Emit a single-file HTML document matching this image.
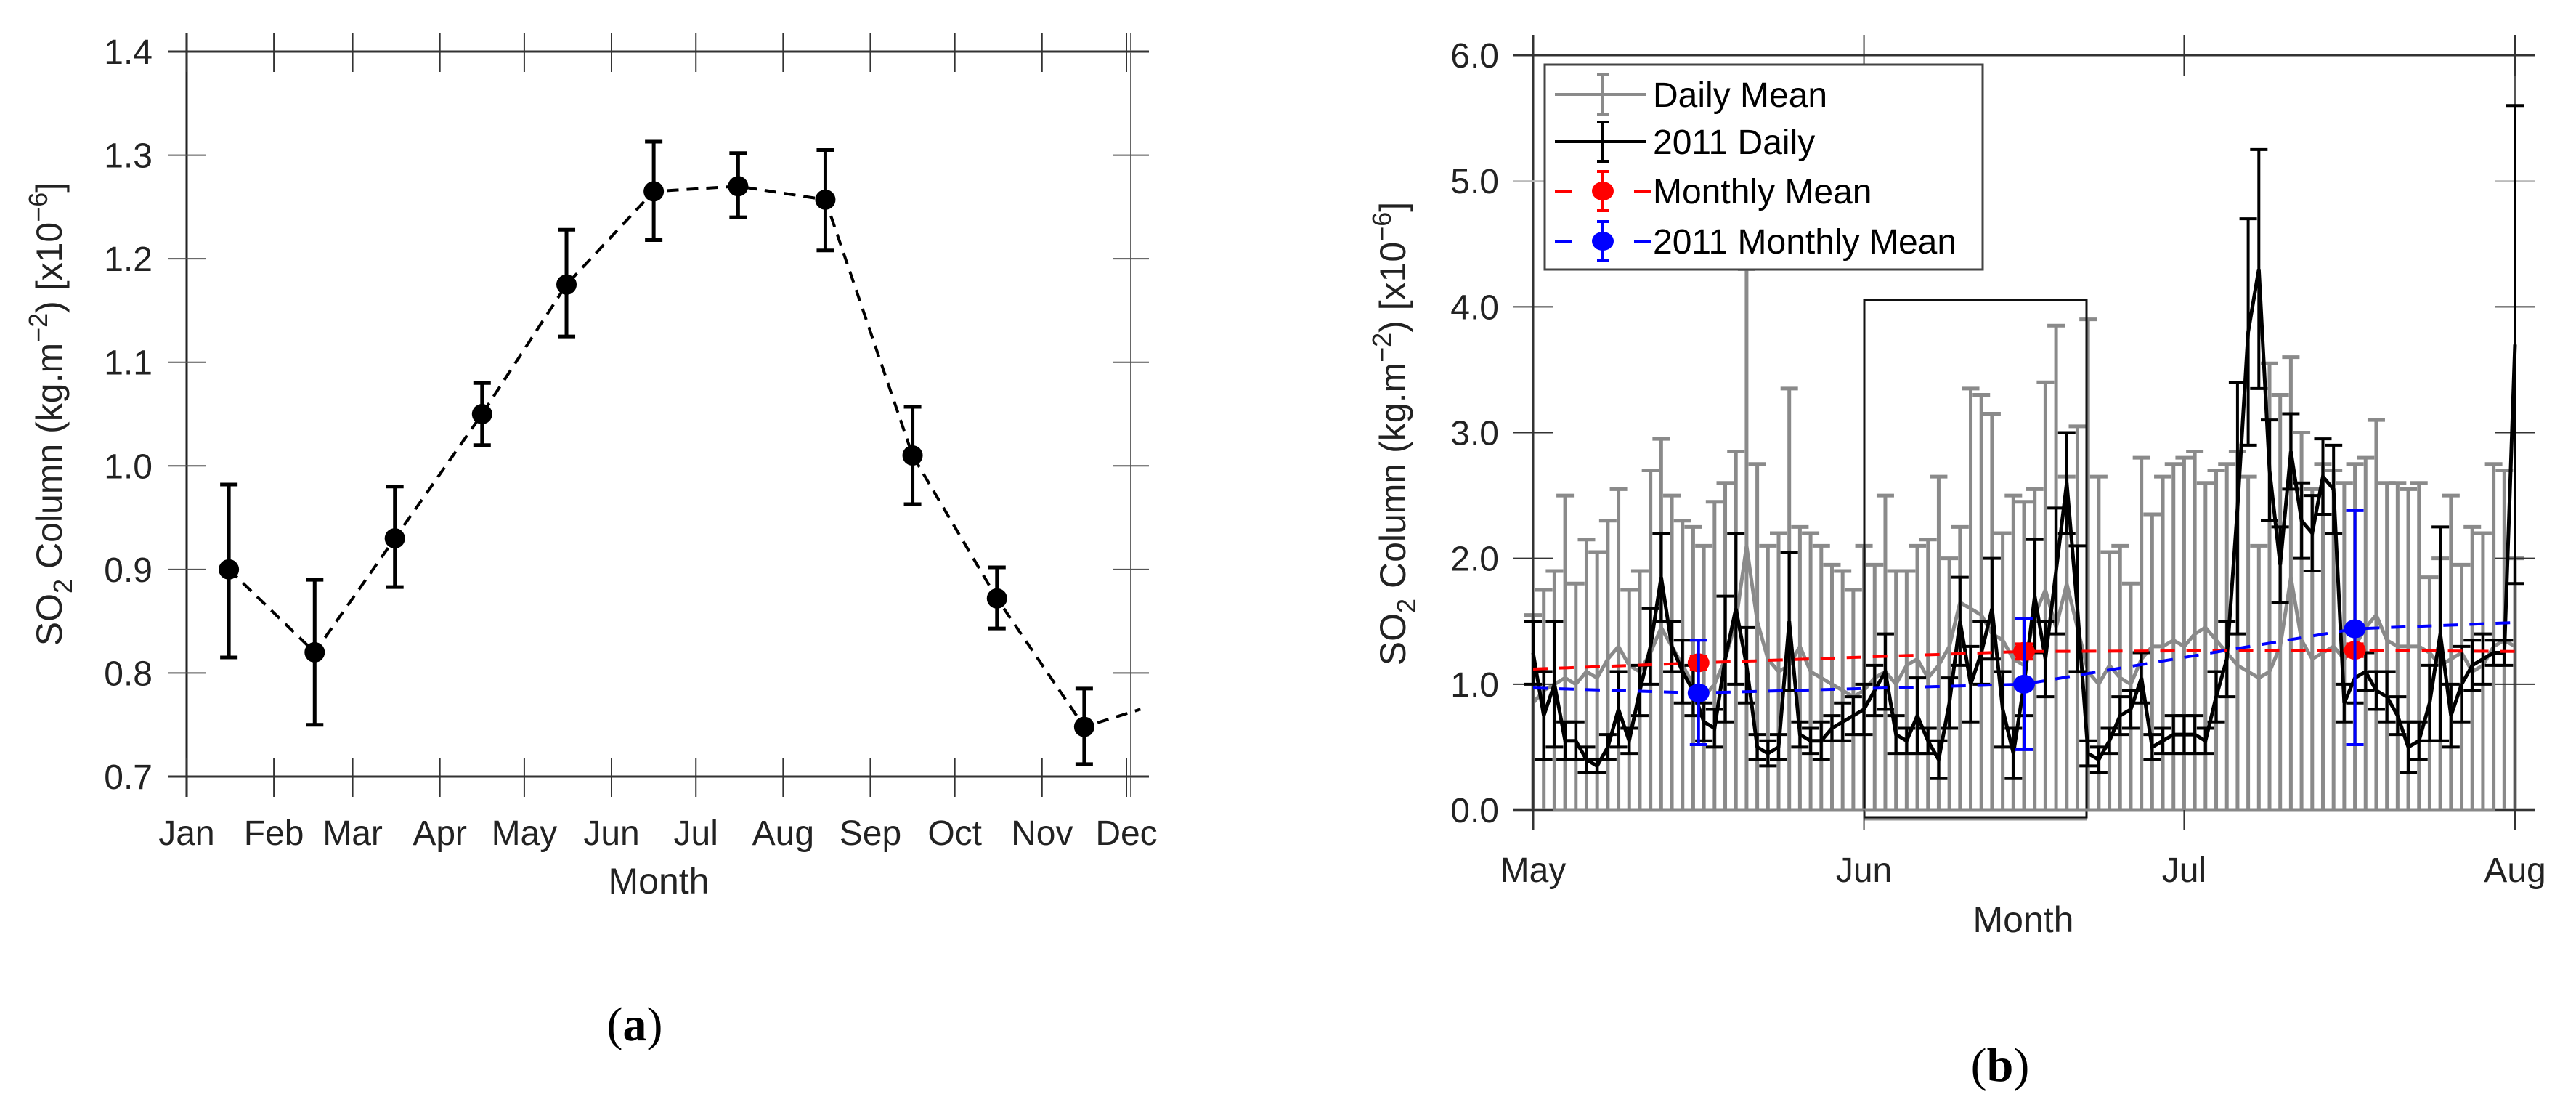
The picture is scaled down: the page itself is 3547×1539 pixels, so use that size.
<!DOCTYPE html>
<html><head><meta charset="utf-8">
<style>
html,body{margin:0;padding:0;background:#fff;}
svg{display:block;font-family:"Liberation Sans",Arial,sans-serif;}
</style></head>
<body>
<svg id="fig" width="3547" height="1539" viewBox="0 0 3547 1539" xmlns="http://www.w3.org/2000/svg">
<rect width="3547" height="1539" fill="#fff"/>
<g id="chartA"></g>
<g id="chartB"></g>
<text x="874" y="1432" font-family="Liberation Serif,serif" font-size="66" text-anchor="middle" fill="#000">(<tspan font-weight="bold">a</tspan>)</text>
<text x="2754" y="1488" font-family="Liberation Serif,serif" font-size="66" text-anchor="middle" fill="#000">(<tspan font-weight="bold">b</tspan>)</text>
</svg>
<script>
// ---------- Chart A data ----------
const aMonths = ["Jan","Feb","Mar","Apr","May","Jun","Jul","Aug","Sep","Oct","Nov","Dec"];
const aMonthStartDays = [0,31,59,90,120,151,181,212,243,273,304,334];
const aPointDays = [15,45.5,74,105,135,166,196,227,258,288,319];
const aValues = [0.90,0.82,0.93,1.05,1.175,1.265,1.27,1.257,1.01,0.872,0.748];
const aErrLow = [0.815,0.75,0.883,1.02,1.125,1.218,1.24,1.208,0.963,0.843,0.712];
const aErrHigh = [0.982,0.89,0.98,1.08,1.228,1.313,1.302,1.305,1.057,0.902,0.785];
const aYTicks = [0.7,0.8,0.9,1.0,1.1,1.2,1.3,1.4];
const aTailDay = 339; const aTailValue = 0.765;

// ---------- Chart B data ----------
const bMonths = ["May","Jun","Jul","Aug"];
const bMonthStartDays = [0,31,61,92];
const bYTicks = [0,1,2,3,4,5,6];
const bDaily2011 = [1.25,0.75,1.0,0.55,0.55,0.4,0.35,0.5,0.8,0.55,0.95,1.3,1.85,1.3,1.1,0.95,0.7,0.65,1.2,1.6,1.15,0.5,0.45,0.5,1.5,0.6,0.55,0.55,0.65,0.7,0.75,
 0.8,0.95,1.1,0.6,0.55,0.75,0.55,0.4,0.85,1.5,1.0,1.25,1.6,0.8,0.45,1.0,1.7,1.2,1.9,2.6,1.6,0.45,0.4,0.55,0.75,0.8,1.05,0.5,0.55,0.6,
 0.6,0.6,0.55,0.9,1.2,2.4,3.8,4.3,2.7,1.95,2.85,2.3,2.2,2.65,2.55,0.85,1.05,1.1,0.95,0.9,0.75,0.5,0.55,0.85,1.4,0.75,1.0,1.15,1.2,1.25,1.25,
 3.7];
const bDaily2011Err = [0.25,0.35,0.5,0.15,0.15,0.1,0.05,0.1,0.3,0.1,0.2,0.3,0.35,0.2,0.25,0.2,0.15,0.15,0.5,0.6,0.3,0.1,0.1,0.1,0.55,0.1,0.1,0.15,0.1,0.15,0.15,
 0.2,0.2,0.3,0.15,0.1,0.3,0.1,0.15,0.2,0.35,0.3,0.25,0.4,0.3,0.2,0.25,0.45,0.3,0.5,0.4,0.5,0.1,0.1,0.1,0.15,0.15,0.2,0.1,0.1,0.15,
 0.15,0.15,0.1,0.2,0.3,1.0,0.9,0.95,0.4,0.3,0.3,0.3,0.3,0.3,0.35,0.15,0.2,0.15,0.15,0.2,0.15,0.2,0.15,0.3,0.85,0.25,0.3,0.2,0.2,0.1,0.1,
 1.9];
const bDailyMean = [0.85,0.95,1.0,1.05,1.0,1.1,1.05,1.2,1.3,1.15,1.1,1.25,1.45,1.3,1.15,1.0,0.9,1.0,1.2,1.5,2.1,1.5,1.2,1.1,1.15,1.3,1.1,1.05,1.0,0.95,0.9,
 0.95,1.05,1.1,1.0,1.15,1.2,1.05,1.15,1.3,1.65,1.6,1.55,1.4,1.35,1.2,1.15,1.55,1.75,1.45,1.8,1.45,1.1,1.0,1.15,1.05,1.0,1.2,1.3,1.3,1.35,
 1.3,1.4,1.45,1.35,1.25,1.15,1.1,1.05,1.1,1.3,1.85,1.35,1.2,1.25,1.3,1.2,1.3,1.45,1.55,1.35,1.3,1.3,1.3,1.25,1.15,1.2,1.25,1.1,1.15,1.3,1.35,
 1.3];
const bDailyUpper = [1.55,1.75,1.9,2.5,1.8,2.15,2.05,2.3,2.55,1.75,1.9,2.7,2.95,2.5,2.3,2.25,2.1,2.45,2.6,2.85,4.3,2.75,2.1,2.2,3.35,2.25,2.2,2.1,1.95,1.9,1.75,
 2.1,1.95,2.5,1.9,1.9,2.1,2.15,2.65,2.0,2.25,3.35,3.3,3.15,2.2,2.5,2.45,2.55,3.4,3.85,2.65,3.05,3.9,2.65,2.05,2.1,1.8,2.8,2.35,2.65,2.75,
 2.8,2.85,2.6,2.7,2.75,2.85,2.65,2.1,3.55,3.3,3.6,3.0,2.55,2.75,2.7,2.6,2.75,2.8,3.1,2.6,2.6,2.55,2.6,1.85,2.0,2.5,1.95,2.25,2.2,2.75,2.7,
 2.0];
const bMonthlyDays = [0,15.5,46,77,92];
const bMonthlyMean = [1.12,1.17,1.26,1.27,1.26];
const b2011MonthlyMean = [0.97,0.93,1.0,1.44,1.49];
const b2011MonthlyLow = [null,0.52,0.48,0.52,null];
const b2011MonthlyHigh = [null,1.35,1.52,2.38,null];
const bMonthlyLow = [null,1.12,1.2,1.22,null];
const bMonthlyHigh = [null,1.22,1.32,1.32,null];

const NS="http://www.w3.org/2000/svg";
function mk(parent,tag,attrs,name,text){
  const e=document.createElementNS(NS,tag);
  for(const k in attrs) e.setAttribute(k,attrs[k]);
  
  
  if(text!==undefined) e.textContent=text;
  parent.appendChild(e); return e;
}
function ytitle(parent,cx,cy,name){
  const t=mk(parent,'text',{x:0,y:0,'font-size':50,fill:'#222','text-anchor':'middle',transform:`translate(${cx},${cy}) rotate(-90)`},name);
  t.innerHTML='SO<tspan dy="14" font-size="36">2</tspan><tspan dy="-14"> Column (kg.m</tspan><tspan dy="-20" font-size="36">−2</tspan><tspan dy="20">) [x10</tspan><tspan dy="-20" font-size="36">−6</tspan><tspan dy="20">]</tspan>';
}

// ---------- Draw A ----------
(function(){
  const g=document.getElementById('chartA');
  const L=257,R=1551,T=71,B=1069;
  const xA=d=>L+(d/334)*(R-L);
  const yA=v=>B-(v-0.7)/0.7*(B-T);
  mk(g,'line',{x1:232,y1:T,x2:1582,y2:T,stroke:'#333','stroke-width':3},'top-axis-line');
  mk(g,'line',{x1:232,y1:B,x2:1582,y2:B,stroke:'#333','stroke-width':3},'x-axis-line');
  mk(g,'line',{x1:L,y1:45,x2:L,y2:1097,stroke:'#222','stroke-width':3},'y-axis-line');
  mk(g,'line',{x1:1557,y1:45,x2:1557,y2:1097,stroke:'#666','stroke-width':2},'right-axis-line');
  aYTicks.forEach((v,i)=>{
    const y=yA(v);
    const c=(i===0||i===aYTicks.length-1)?'#333':'#555';
    mk(g,'line',{x1:232,y1:y,x2:283,y2:y,stroke:c,'stroke-width':2},'y-tick');
    mk(g,'line',{x1:1532,y1:y,x2:1582,y2:y,stroke:c,'stroke-width':2},'y-tick-right');
    mk(g,'text',{x:210,y:y+17,'font-size':48,fill:'#222','text-anchor':'end'},'y-tick-label',v.toFixed(1));
  });
  aMonths.forEach((m,i)=>{
    const x=xA(aMonthStartDays[i]);
    mk(g,'line',{x1:x,y1:1043,x2:x,y2:1097,stroke:'#333','stroke-width':2},'x-tick');
    mk(g,'line',{x1:x,y1:45,x2:x,y2:99,stroke:'#333','stroke-width':2},'x-tick-top');
    mk(g,'text',{x:x,y:1163,'font-size':48,fill:'#222','text-anchor':'middle'},'x-tick-label',m);
  });
  mk(g,'text',{x:907,y:1230,'font-size':50,fill:'#222','text-anchor':'middle'},'x-axis-title','Month');
  ytitle(g,85,570,'y-axis-title');
  let pts=aPointDays.map((d,i)=>`${xA(d)},${yA(aValues[i])}`);
  pts.push(`${xA(aTailDay)},${yA(aTailValue)}`);
  mk(g,'polyline',{points:pts.join(' '),fill:'none',stroke:'#000','stroke-width':4,'stroke-dasharray':'16 11'},'monthly-mean-line');
  aPointDays.forEach((d,i)=>{
    const x=xA(d);
    mk(g,'line',{x1:x,y1:yA(aErrLow[i]),x2:x,y2:yA(aErrHigh[i]),stroke:'#000','stroke-width':5},'error-bar');
    mk(g,'line',{x1:x-12,y1:yA(aErrLow[i]),x2:x+12,y2:yA(aErrLow[i]),stroke:'#000','stroke-width':5},'error-cap-low');
    mk(g,'line',{x1:x-12,y1:yA(aErrHigh[i]),x2:x+12,y2:yA(aErrHigh[i]),stroke:'#000','stroke-width':5},'error-cap-high');
    mk(g,'circle',{cx:x,cy:yA(aValues[i]),r:14,fill:'#000'},'data-point-'+aMonths[i].toLowerCase());
  });
})();

// ---------- Draw B ----------
(function(){
  const g=document.getElementById('chartB');
  const L=2111,R=3463,T=76,B=1115;
  const xB=d=>L+d/92*(R-L);
  const yB=v=>B-v/6*(B-T);
  // gray daily-mean error bars
  bDailyUpper.forEach((u,i)=>{
    const x=xB(i);
    mk(g,'line',{x1:x,y1:yB(0),x2:x,y2:yB(u),stroke:'#8a8a8a','stroke-width':5},'daily-mean-error-bar');
    mk(g,'line',{x1:x-12,y1:yB(u),x2:x+12,y2:yB(u),stroke:'#8a8a8a','stroke-width':5},'daily-mean-error-cap');
  });
  mk(g,'polyline',{points:bDailyMean.map((v,i)=>`${xB(i)},${yB(v)}`).join(' '),fill:'none',stroke:'#8a8a8a','stroke-width':5},'daily-mean-line');
  // inset rectangle
  mk(g,'rect',{x:2567,y:413,width:306,height:712,fill:'none',stroke:'#111','stroke-width':3},'highlight-box');
  mk(g,'line',{x1:2567,y1:1128,x2:2873,y2:1128,stroke:'#999','stroke-width':3},'highlight-box-base');
  // axes
  mk(g,'line',{x1:2083,y1:T,x2:3490,y2:T,stroke:'#333','stroke-width':3},'top-axis-line');
  mk(g,'line',{x1:2083,y1:B,x2:3490,y2:B,stroke:'#888','stroke-width':5},'x-axis-line');
  mk(g,'line',{x1:L,y1:48,x2:L,y2:1143,stroke:'#333','stroke-width':3},'y-axis-line');
  mk(g,'line',{x1:R,y1:48,x2:R,y2:1143,stroke:'#555','stroke-width':3},'right-axis-line');
  bYTicks.forEach(v=>{
    const y=yB(v);
    mk(g,'line',{x1:2083,y1:y,x2:2138,y2:y,stroke:v===5?'#bbb':'#333','stroke-width':2},'y-tick');
    mk(g,'line',{x1:3436,y1:y,x2:3490,y2:y,stroke:v===5?'#bbb':'#333','stroke-width':2},'y-tick-right');
    mk(g,'text',{x:2064,y:y+17,'font-size':48,fill:'#222','text-anchor':'end'},'y-tick-label',v.toFixed(1));
  });
  bMonths.forEach((m,i)=>{
    const x=xB(bMonthStartDays[i]);
    mk(g,'line',{x1:x,y1:1115,x2:x,y2:1143,stroke:'#333','stroke-width':2},'x-tick');
    mk(g,'line',{x1:x,y1:48,x2:x,y2:104,stroke:'#333','stroke-width':2},'x-tick-top');
    mk(g,'text',{x:x,y:1214,'font-size':48,fill:'#222','text-anchor':'middle'},'x-tick-label',m);
  });
  mk(g,'text',{x:2786,y:1283,'font-size':50,fill:'#222','text-anchor':'middle'},'x-axis-title','Month');
  ytitle(g,1935,597,'y-axis-title');
  // 2011 daily black
  bDaily2011.forEach((v,i)=>{
    const x=xB(i),e=bDaily2011Err[i];
    const lo=yB(Math.max(0,v-e)),hi=yB(v+e);
    mk(g,'line',{x1:x,y1:lo,x2:x,y2:hi,stroke:'#000','stroke-width':4},'daily-2011-error-bar');
    mk(g,'line',{x1:x-12,y1:lo,x2:x+12,y2:lo,stroke:'#000','stroke-width':4},'daily-2011-error-cap');
    mk(g,'line',{x1:x-12,y1:hi,x2:x+12,y2:hi,stroke:'#000','stroke-width':4},'daily-2011-error-cap');
  });
  mk(g,'polyline',{points:bDaily2011.map((v,i)=>`${xB(i)},${yB(v)}`).join(' '),fill:'none',stroke:'#000','stroke-width':5},'daily-2011-line');
  // monthly means
  function monthly(vals,lo,hi,color,name){
    mk(g,'polyline',{points:vals.map((v,i)=>`${xB(bMonthlyDays[i])},${yB(v)}`).join(' '),fill:'none',stroke:color,'stroke-width':4,'stroke-dasharray':'20 16'},name+'-line');
    vals.forEach((v,i)=>{
      if(lo[i]===null) return;
      const x=xB(bMonthlyDays[i]);
      mk(g,'line',{x1:x,y1:yB(lo[i]),x2:x,y2:yB(hi[i]),stroke:color,'stroke-width':4},name+'-error-bar');
      mk(g,'line',{x1:x-12,y1:yB(lo[i]),x2:x+12,y2:yB(lo[i]),stroke:color,'stroke-width':4},name+'-error-cap');
      mk(g,'line',{x1:x-12,y1:yB(hi[i]),x2:x+12,y2:yB(hi[i]),stroke:color,'stroke-width':4},name+'-error-cap');
      mk(g,'ellipse',{cx:x,cy:yB(v),rx:15,ry:13,fill:color},name+'-point');
    });
  }
  monthly(bMonthlyMean,bMonthlyLow,bMonthlyHigh,'#ff0000','monthly-mean');
  monthly(b2011MonthlyMean,b2011MonthlyLow,b2011MonthlyHigh,'#0000ff','monthly-mean-2011');
  // legend
  const lg=mk(g,'g',{},'legend');
  mk(lg,'rect',{x:2127,y:89,width:603,height:282,fill:'#fff',stroke:'#444','stroke-width':3},'legend-box');
  const entries=[['Daily Mean','#8a8a8a',false,130],['2011 Daily','#000',false,195],['Monthly Mean','#ff0000',true,263],['2011 Monthly Mean','#0000ff',true,332]];
  entries.forEach(([label,c,dash,y])=>{
    const eg=mk(lg,'g',{},'legend-entry');
    if(dash){
      mk(eg,'line',{x1:2141,y1:y,x2:2164,y2:y,stroke:c,'stroke-width':4},'legend-dash');
      mk(eg,'line',{x1:2250,y1:y,x2:2273,y2:y,stroke:c,'stroke-width':4},'legend-dash');
      mk(eg,'ellipse',{cx:2207,cy:y,rx:15,ry:13,fill:c},'legend-marker');
    } else {
      mk(eg,'line',{x1:2141,y1:y,x2:2266,y2:y,stroke:c,'stroke-width':4},'legend-line');
    }
    mk(eg,'line',{x1:2207,y1:y-27,x2:2207,y2:y+27,stroke:c,'stroke-width':4},'legend-errorbar');
    mk(eg,'line',{x1:2199,y1:y-27,x2:2215,y2:y-27,stroke:c,'stroke-width':4},'legend-cap');
    mk(eg,'line',{x1:2199,y1:y+27,x2:2215,y2:y+27,stroke:c,'stroke-width':4},'legend-cap');
    mk(eg,'text',{x:2276,y:y+17,'font-size':48,fill:'#000'},'legend-label',label);
  });
})();
</script>
</body></html>
